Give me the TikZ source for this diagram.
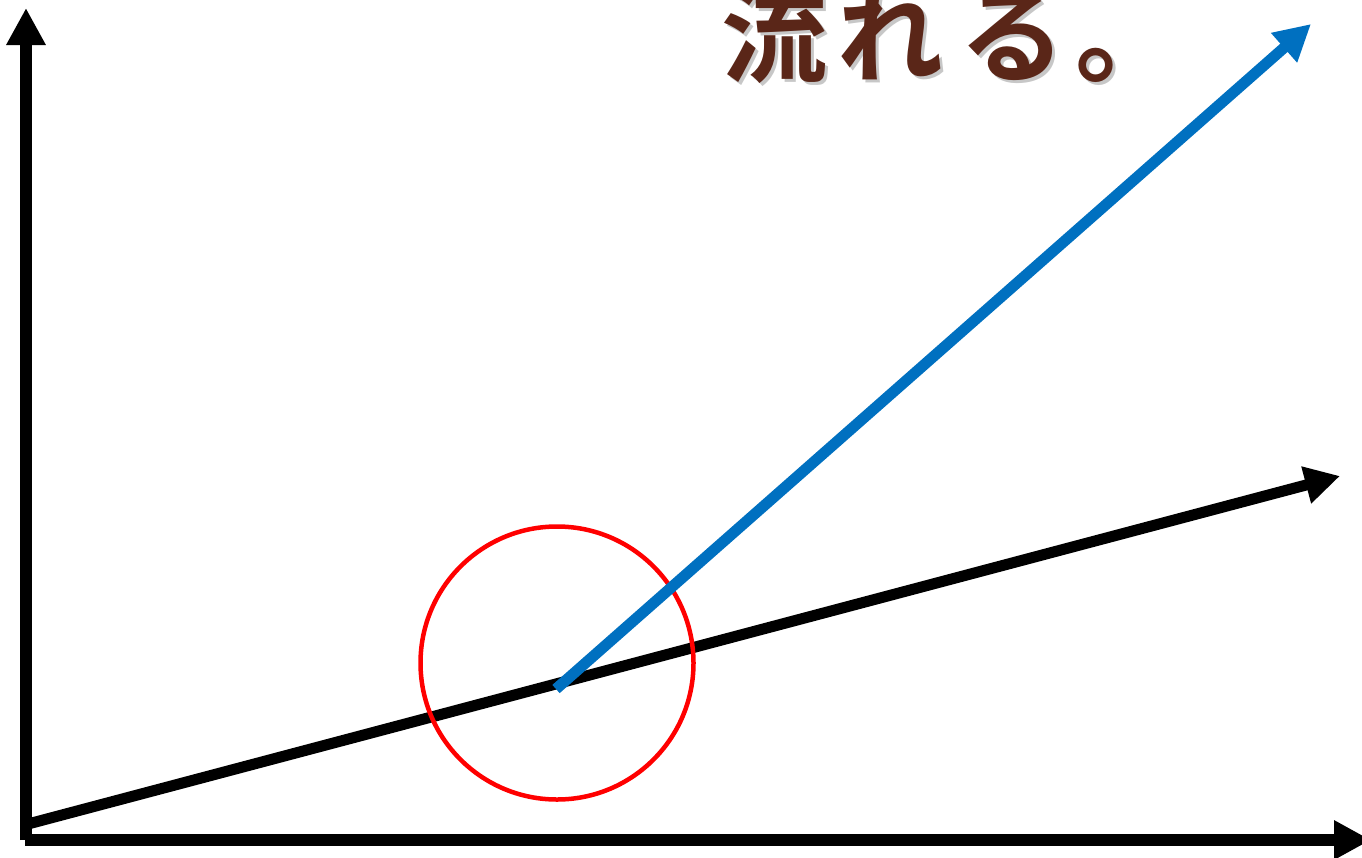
\documentclass[tikz,border=0pt]{standalone}
\usepackage{fontspec}
\newfontfamily\cjk{Noto Sans CJK JP Bold}
\usetikzlibrary{arrows.meta}
\definecolor{brownT}{HTML}{5A2618}
\definecolor{blueA}{HTML}{0070C0}
\tikzset{
  axis/.style={line width=11.5pt, -{Triangle[length=37pt,width=37pt]}},
  vec/.style={line width=11pt, -{Triangle[length=36pt,width=37pt]}},
  titletext/.style={anchor=base west, inner sep=0pt},
}
\newcommand{\titlestr}{\cjk\fontsize{106pt}{106pt}\selectfont 流\kern10pt れ\kern16pt る\kern10pt 。}
\begin{document}
\begin{tikzpicture}[x=1pt,y=-1pt]
\useasboundingbox (0,0) rectangle (1362,857);
\clip (0,0) rectangle (1362,857);
\coordinate (O) at (26,840);
\coordinate (Ytip) at (26,8);
\coordinate (Xs) at (25,840);
\coordinate (Xtip) at (1371,840);
\coordinate (D0) at (28,824);
\coordinate (Dtip) at (1340,476);
\coordinate (B0) at (556,689);
\coordinate (Btip) at (1311,24);
% text with shadow
\node[titletext, text=black!40, opacity=0.55] (shadow) at (724,77) {\titlestr};
\node[titletext, text=brownT] (title) at (721,74) {\titlestr};
% axes
\draw[axis] (O) -- (Ytip);
\draw[axis] (Xs) -- (Xtip);
% black line
\draw[line width=11pt, -{Triangle[length=35pt,width=36pt]}] (D0) -- (Dtip);
% red circle
\node[draw=red, line width=4.5pt, circle, minimum size=273pt, inner sep=0pt] (ring) at (557,663) {};
% blue vector
\draw[vec, draw=blueA, fill=blueA] (B0) -- (Btip);
\end{tikzpicture}
\end{document}
